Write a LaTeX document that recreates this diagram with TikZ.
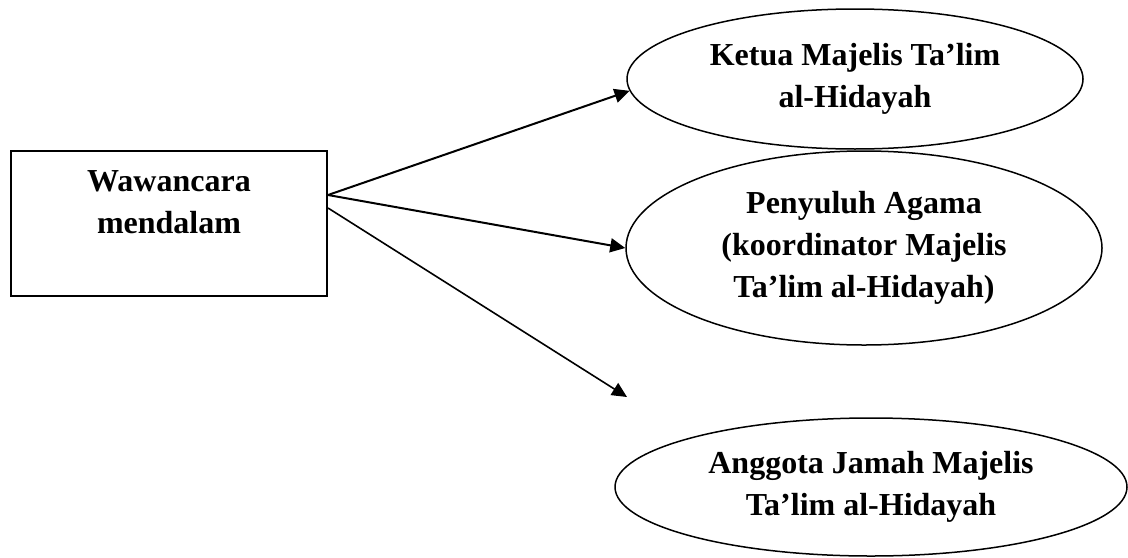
\documentclass[tikz,border=0pt]{standalone}
\usepackage{fontspec}
\setmainfont{Liberation Serif}
\usetikzlibrary{arrows.meta,shapes.geometric}
\tikzset{
  teks/.style={align=center, inner sep=0pt, font=\bfseries\fontsize{16}{21}\selectfont},
  kotak/.style={teks, draw, line width=1pt, minimum width=158pt, minimum height=72.5pt},
  elips/.style={teks, draw, ellipse, line width=0.75pt},
  panah/.style={-{Triangle[length=7.5pt,width=7pt]}, line width=1pt},
  panahtipis/.style={panah, line width=0.8pt}
}
\begin{document}
\begin{tikzpicture}[x=0.5pt,y=-0.5pt]
  \useasboundingbox (0,0) rectangle (1128,557);
  \node[kotak] (wawancara) at (169,223.5) {Wawancara\\mendalam\\~};
  \node[elips, minimum width=228pt, minimum height=70pt] (ketua) at (855,79) {Ketua Majelis Ta’lim\\al-Hidayah};
  \node[elips, minimum width=238pt, minimum height=97pt] (penyuluh) at (864,248) {Penyuluh Agama\\(koordinator Majelis\\Ta’lim al-Hidayah)};
  \node[elips, minimum width=256pt, minimum height=69pt] (anggota) at (871,487) {Anggota Jamah Majelis\\Ta’lim al-Hidayah};
  \coordinate (ujung) at (627,397);
  \draw[panah] ([yshift=14.25pt]wawancara.east) -- (ketua.183);
  \draw[panah] ([yshift=14.25pt]wawancara.east) -- (penyuluh.west);
  \draw[panahtipis] ([yshift=7.75pt]wawancara.east) -- (ujung);
\end{tikzpicture}
\end{document}
